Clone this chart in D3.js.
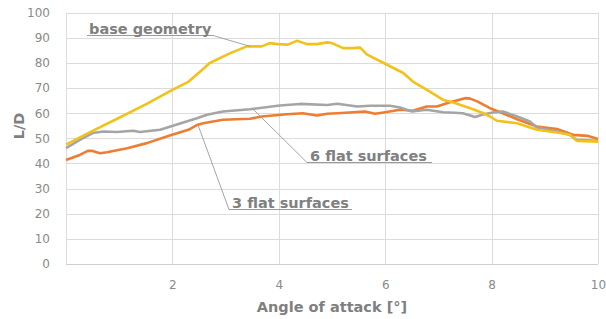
<!DOCTYPE html>
<html><head><meta charset="utf-8">
<script src="https://cdn.jsdelivr.net/npm/d3@7"></script>
<style>body{margin:0;background:#fff}svg{display:block}</style>
</head><body>
<script>
// ---- data ----
const baseAngle = [0,0.5,1,1.5,2,2.3,2.6,2.7,3.1,3.4,3.68,3.83,3.98,4.17,4.34,4.53,4.72,4.91,5.0,5.21,5.38,5.53,5.66,6.0,6.34,6.52,6.84,7.09,7.27,7.6,7.85,7.97,8.1,8.48,8.85,9.23,9.47,9.6,10];
const baseLD    = [47.5,53,58.2,63.5,69.3,72.5,78,80,84,86.6,86.6,87.9,87.5,87.3,88.8,87.5,87.5,88.2,87.9,85.9,85.9,86.1,83.3,79.7,76,72.6,68.6,65.3,64.4,62,60,58.7,57,56,53.4,52.3,51.4,49,48.7];
const sixAngle  = [0,0.26,0.5,0.7,0.96,1.26,1.39,1.77,2.01,2.46,2.65,2.95,3.46,4.02,4.4,4.91,5.1,5.47,5.71,6.09,6.28,6.5,6.78,7.09,7.3,7.46,7.69,7.85,8.03,8.21,8.48,8.72,8.85,9.23,9.47,9.6,10];
const sixLD     = [46.1,49.4,52.1,52.7,52.5,53,52.5,53.4,55,58,59.4,60.7,61.6,63.1,63.7,63.3,63.8,62.7,63,63,62.3,60.7,61.4,60.4,60.2,60,58.5,59.6,60.3,60.7,58.7,56.7,54.3,52.7,51.4,49.4,49];
const threeAngle= [0,0.26,0.41,0.5,0.64,0.77,1.15,1.52,1.95,2.3,2.46,2.58,2.95,3.46,3.68,4.15,4.45,4.72,4.91,5.1,5.62,5.81,6.0,6.28,6.52,6.78,6.97,7.22,7.5,7.6,7.73,7.97,8.21,8.48,8.85,9.23,9.53,9.8,10];
const threeLD   = [41.4,43.4,45,45,44.1,44.5,46.1,48.1,51.1,53.4,55.3,56,57.4,57.8,58.7,59.6,60,59.1,59.8,60,60.7,59.8,60.4,61.4,61,62.7,62.7,64.4,66,65.8,64.7,62,60,57.6,54.7,53.7,51.4,51,49.7];
const seriesNames = ["3 flat surfaces","6 flat surfaces","base geometry"];
const xTicks = [0,2,4,6,8,10];
const xTickLabels = ["","2","4","6","8","10"];
const yTicks = [0,10,20,30,40,50,60,70,80,90,100];
const xTitle = "Angle of attack [°]";
const yTitle = "L/D";

// ---- layout ----
const W = 606, H = 319;
const mLeft = 66, mRight = 598, mTop = 12.7, mBottom = 264;
const x = d3.scaleLinear().domain([0,10]).range([mLeft,mRight]);
const y = d3.scaleLinear().domain([0,100]).range([mBottom,mTop]);
const svg = d3.select("body").append("svg").attr("width",W).attr("height",H);
const font = "'DejaVu Sans', Verdana, sans-serif";
const grey = "#8a8a8a";

// gridlines
svg.append("g").selectAll("line").data(yTicks).join("line")
  .attr("x1",mLeft).attr("x2",mRight).attr("y1",d=>Math.round(y(d))+0.5).attr("y2",d=>Math.round(y(d))+0.5)
  .attr("stroke","#dcdcdc").attr("stroke-width",1);
svg.append("g").selectAll("line").data(xTicks).join("line")
  .attr("x1",d=>Math.round(x(d))+0.5).attr("x2",d=>Math.round(x(d))+0.5).attr("y1",mTop).attr("y2",mBottom)
  .attr("stroke","#dcdcdc").attr("stroke-width",1);
svg.append("line").attr("x1",mLeft).attr("x2",mRight).attr("y1",Math.round(mBottom)+0.5).attr("y2",Math.round(mBottom)+0.5)
  .attr("stroke","#d0d0d0");

// axes (labels only)
const yAxis = d3.axisLeft(y).tickValues(yTicks).tickSize(0).tickPadding(16);
const gy = svg.append("g").attr("transform",`translate(${mLeft},0)`).call(yAxis);
gy.select(".domain").remove();
gy.selectAll("text").attr("font-family",font).attr("font-size",12).attr("fill",grey);

const xAxis = d3.axisBottom(x).tickValues(xTicks).tickFormat((d,i)=>xTickLabels[i]).tickSize(0).tickPadding(16);
const gx = svg.append("g").attr("transform",`translate(0,${mBottom})`).call(xAxis);
gx.select(".domain").remove();
gx.selectAll("text").attr("font-family",font).attr("font-size",12).attr("fill",grey);

// titles
svg.append("text").attr("x",(mLeft+mRight)/2).attr("y",312).attr("text-anchor","middle")
  .attr("font-family",font).attr("font-weight","bold").attr("font-size",14.5).attr("fill","#7f7f7f").text(xTitle);
svg.append("text").attr("transform","translate(24,126) rotate(-90)").attr("text-anchor","middle")
  .attr("font-family",font).attr("font-weight","bold").attr("font-size",14.5).attr("fill","#7f7f7f").text(yTitle);

// series
const series = [
  {name:seriesNames[0], a:threeAngle, v:threeLD, color:"#ED7D31"},
  {name:seriesNames[1], a:sixAngle,   v:sixLD,   color:"#A5A5A5"},
  {name:seriesNames[2], a:baseAngle,  v:baseLD,  color:"#F2C21B"}
];
const line = d3.line().x(d=>x(d[0])).y(d=>y(d[1]));
series.forEach(s=>{
  svg.append("path").datum(s.a.map((a,i)=>[a,s.v[i]]))
    .attr("d",line).attr("fill","none").attr("stroke",s.color).attr("stroke-width",2.6)
    .attr("stroke-linejoin","round");
});

// annotations with leader lines
function interp(s,a){
  for(let i=1;i<s.a.length;i++){
    if(s.a[i]>=a){const t=(a-s.a[i-1])/(s.a[i]-s.a[i-1]);return s.v[i-1]+t*(s.v[i]-s.v[i-1]);}
  }
  return s.v[s.v.length-1];
}
const notes = [
  {s:series[2], at:3.46, tx:89,  base:33.5, ul0:87,  ul1:213, from:"right"},
  {s:series[1], at:3.51, tx:310, base:160.5, ul0:307, ul1:432, from:"left"},
  {s:series[0], at:2.48, tx:232, base:207.5, ul0:229, ul1:352, from:"left"}
];
notes.forEach(n=>{
  const px = x(n.at), py = y(interp(n.s,n.at));
  const uy = n.base+2;
  const sx = n.from==="right"? n.ul1 : n.ul0;
  svg.append("line").attr("x1",sx).attr("y1",uy).attr("x2",px).attr("y2",py)
    .attr("stroke","#9a9a9a").attr("stroke-width",0.9);
  svg.append("line").attr("x1",n.ul0).attr("x2",n.ul1).attr("y1",uy).attr("y2",uy)
    .attr("stroke","#9a9a9a").attr("stroke-width",1);
  svg.append("text").attr("x",n.tx).attr("y",n.base).attr("font-family",font).attr("font-weight","bold")
    .attr("font-size",14.5).attr("fill","#808080").text(n.s.name);
});
</script>
</body></html>
